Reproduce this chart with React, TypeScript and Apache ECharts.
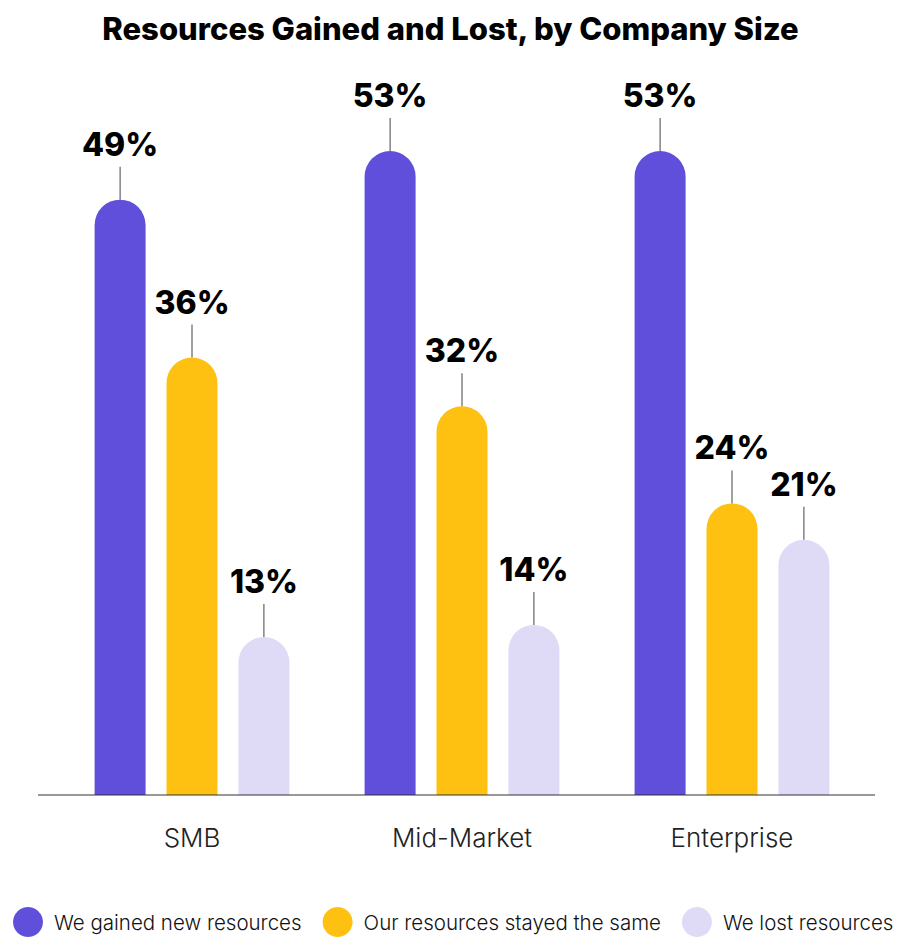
import React, { useEffect, useRef } from "react";
import * as echarts from "echarts";

const categories = ["SMB", "Mid-Market", "Enterprise"];
const seriesNames = ["We gained new resources", "Our resources stayed the same", "We lost resources"];
const gainedValues = [49, 53, 53];
const sameValues = [36, 32, 24];
const lostValues = [13, 14, 21];
const colors = ["#5F4FDA", "#FEC111", "#DFDBF7"];

export default function App() {
  const ref = useRef<HTMLDivElement>(null);
  useEffect(() => {
    document.body.style.margin = "0";
    const chart = echarts.init(ref.current!, null, { renderer: "svg" });
    const data = [gainedValues, sameValues, lostValues];
    const font = "Inter, 'Noto Sans', sans-serif";
    chart.setOption({
      animation: false,
      backgroundColor: "#ffffff",
      title: {
        text: "Resources Gained and Lost, by Company Size",
        left: "center",
        top: 8,
        textStyle: { fontFamily: font, fontSize: 31, fontWeight: 800, color: "#000" },
      },
      legend: {
        left: 13,
        right: 0,
        padding: 0,
        top: 907,
        itemWidth: 30,
        itemHeight: 30,
        itemGap: 21,
        icon: "circle",
        textStyle: { fontFamily: font, fontSize: 20.5, fontWeight: 300, color: "#111", padding: [0, 0, 0, 6] },
        data: seriesNames,
      },
      grid: { left: 57, right: 34, top: 66, bottom: 939 - 795 },
      xAxis: {
        type: "category",
        data: categories,
        axisLine: { show: false },
        axisTick: { show: false },
        axisLabel: { margin: 29, fontFamily: font, fontSize: 26, fontWeight: 300, color: "#222" },
      },
      yAxis: { type: "value", min: 0, max: 60, show: false, splitLine: { show: false } },
      graphic: [
        { type: "line", shape: { x1: 38, y1: 795, x2: 875, y2: 795 }, style: { stroke: "#333", lineWidth: 1.2 }, z: 10 },
      ],
      series: seriesNames.map((name, i) => ({
        name,
        type: "bar",
        data: data[i],
        barWidth: 51,
        barGap: "41%",
        itemStyle: { color: colors[i], borderRadius: [25.5, 25.5, 0, 0] },
        label: {
          show: true,
          position: "top",
          distance: 0,
          formatter: (p: any) => `{v|${p.value}%}\n{l|}`,
          rich: {
            v: { fontFamily: font, fontSize: 32, fontWeight: 800, color: "#000", lineHeight: 45, align: "center" },
            l: { width: 1, height: 33, backgroundColor: "#444", align: "center" },
          },
        },
      })),
    });
    return () => chart.dispose();
  }, []);
  return <div ref={ref} style={{ width: 901, height: 939 }} />;
}
